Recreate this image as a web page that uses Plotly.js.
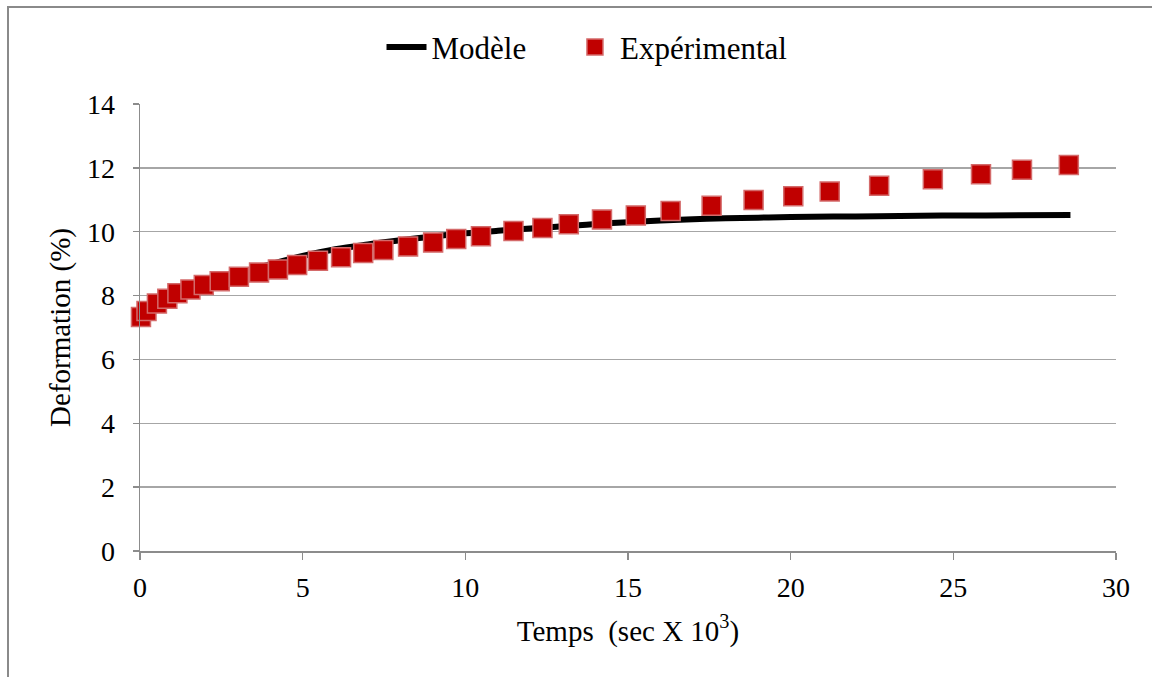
<!DOCTYPE html>
<html>
<head>
<meta charset="utf-8">
<script src="https://cdn.plot.ly/plotly-3.0.1.min.js"></script>
<style>
  html, body { margin: 0; padding: 0; background: #fff; overflow: hidden; }
  #frame { position: absolute; left: 7px; top: 6px; width: 1200px; height: 720px; border: 2px solid #8a8a8a; box-sizing: border-box; }
  #chart { position: absolute; left: 0; top: 0; width: 1152px; height: 677px; }
</style>
</head>
<body>
<div id="frame"></div>
<div id="chart"></div>
<script>
// Experimental points (time in sec x 10^3, deformation in %)
const expTime = [0.03, 0.2, 0.52, 0.84, 1.15, 1.55, 1.96, 2.45, 3.04, 3.66, 4.24, 4.83, 5.47, 6.18, 6.86, 7.48, 8.24, 9.01, 9.72, 10.48, 11.48, 12.37, 13.18, 14.2, 15.24, 16.31, 17.57, 18.86, 20.08, 21.2, 22.72, 24.37, 25.85, 27.11, 28.55];
const expDef  = [7.33, 7.52, 7.75, 7.9, 8.07, 8.19, 8.33, 8.45, 8.59, 8.72, 8.82, 8.96, 9.09, 9.2, 9.33, 9.43, 9.54, 9.66, 9.77, 9.86, 10.02, 10.12, 10.23, 10.38, 10.51, 10.65, 10.81, 10.99, 11.11, 11.26, 11.44, 11.64, 11.8, 11.94, 12.09];

// Model curve
const modTime = [0, 0.5, 1, 2, 3, 4, 5, 6, 7, 8, 9, 10, 11, 12, 13, 14, 15, 16, 17, 18, 19, 20, 22, 24, 26, 28.6];
const modDef  = [7.3, 7.72, 8.0, 8.38, 8.7, 8.98, 9.24, 9.45, 9.6, 9.73, 9.85, 9.95, 10.03, 10.1, 10.17, 10.24, 10.3, 10.35, 10.39, 10.42, 10.44, 10.46, 10.48, 10.5, 10.51, 10.52];

const xTicks = [0, 5, 10, 15, 20, 25, 30];
const yTicks = [0, 2, 4, 6, 8, 10, 12, 14];

const font = "'Liberation Serif', 'Times New Roman', serif";
const gap = '\u00a0\u00a0\u00a0\u00a0\u00a0';

const traces = [
  {
    x: modTime, y: modDef, name: 'Modèle' + gap, type: 'scatter', mode: 'lines',
    line: { color: '#000000', width: 6, shape: 'spline' }, cliponaxis: false
  },
  {
    x: expTime, y: expDef, name: 'Expérimental', type: 'scatter', mode: 'markers',
    cliponaxis: false,
    marker: { symbol: 'square', size: 19, color: '#C00000', line: { color: '#D46A6A', width: 1.5 } }
  }
];

const layout = {
  width: 1152, height: 677,
  margin: { l: 140, r: 36, t: 104, b: 126 },
  paper_bgcolor: 'rgba(0,0,0,0)',
  plot_bgcolor: 'rgba(0,0,0,0)',
  font: { family: font, color: '#000', size: 28 },
  showlegend: true,
  legend: {
    orientation: 'h', x: 0.458, xanchor: 'center', y: 1.127, yanchor: 'middle',
    font: { family: font, size: 31, color: '#000' },
    bgcolor: 'rgba(0,0,0,0)', itemwidth: 40, tracegroupgap: 0
  },
  xaxis: {
    range: [0, 30], tickvals: xTicks, ticktext: xTicks.map(String),
    showgrid: false, zeroline: false,
    showline: true, linecolor: '#8c8c8c', linewidth: 1.5,
    ticks: 'outside', ticklen: 7, tickwidth: 1.5, tickcolor: '#8c8c8c',
    ticklabelstandoff: 4,
    tickfont: { family: font, size: 28, color: '#000' },
    title: { text: 'Temps\u00a0 (sec X 10<sup>3</sup>)', font: { family: font, size: 29, color: '#000' }, standoff: 18 },
    automargin: false
  },
  yaxis: {
    range: [0, 14], tickvals: yTicks, ticktext: yTicks.map(String),
    showgrid: true, gridcolor: '#a6a6a6', gridwidth: 1.5,
    zeroline: false,
    showline: true, linecolor: '#8c8c8c', linewidth: 1.5,
    ticks: 'outside', ticklen: 6, tickwidth: 1.5, tickcolor: '#8c8c8c',
    ticklabelstandoff: 12,
    tickfont: { family: font, size: 28, color: '#000' },
    title: { text: 'Deformation (%)', font: { family: font, size: 29, color: '#000' }, standoff: 8 },
    automargin: false
  }
};

Plotly.newPlot('chart', traces, layout, { displayModeBar: false, staticPlot: true });
</script>
</body>
</html>
